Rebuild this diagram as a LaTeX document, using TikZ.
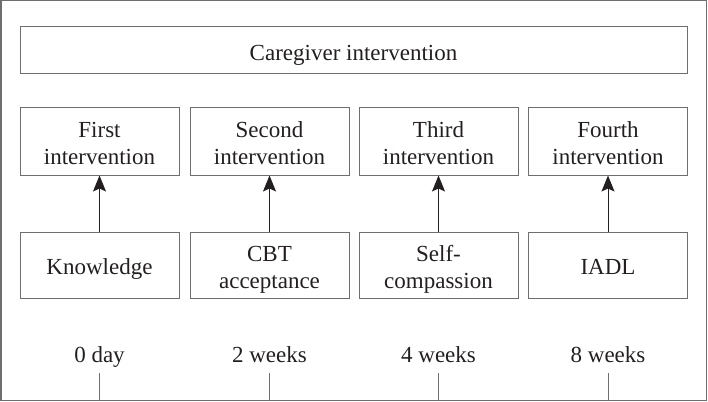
\documentclass[tikz,border=0pt]{standalone}
\usepackage{fontspec}
\setmainfont{LiberationSerif}[Extension=.ttf, UprightFont=*-Regular, BoldFont=*-Bold]
\usetikzlibrary{arrows.meta}
\definecolor{linegray}{HTML}{6E6E6E}
\definecolor{textdark}{HTML}{231F20}

\begin{document}
\begin{tikzpicture}[x=1pt, y=-1pt,
  box/.style={draw=linegray, line width=1pt, minimum width=159pt, minimum height=67pt,
    align=center, inner sep=0pt, text=textdark, font=\rmfamily\fontsize{23}{27}\selectfont},
  oneline/.style={text height=18pt, text depth=0pt},
  twoline/.style={text height=46pt, text depth=0pt},
  time/.style={text=textdark, font=\rmfamily\fontsize{23}{27}\selectfont, text height=16pt,
    text depth=5pt, inner sep=6pt},
  link/.style={draw=linegray, line width=1pt}]
\useasboundingbox (0,0) rectangle (708,401);
\draw[linegray, line width=1.5pt] (0.75,0.75) rectangle (706.5,400.25);

\node[box, text height=21pt, text depth=0pt, minimum width=667pt, minimum height=47pt] (cg) at (353.5,50.5) {Caregiver intervention};

\node[box, twoline, minimum height=68pt] (first) at (99.5,141) {First\\intervention};
\node[box, twoline, minimum height=68pt] (second) at (269.5,141) {Second\\intervention};
\node[box, twoline, minimum height=68pt] (third) at (438.5,141) {Third\\intervention};
\node[box, twoline, minimum height=68pt] (fourth) at (608,141) {Fourth\\intervention};

\node[box, oneline, minimum height=66pt] (know) at (99.5,265) {Knowledge};
\node[box, twoline, minimum height=66pt] (cbt) at (269.5,265) {CBT\\acceptance};
\node[box, twoline, minimum height=66pt] (self) at (438.5,265) {Self-\\compassion};
\node[box, oneline, minimum height=66pt] (iadl) at (608,265) {IADL};

\node[time, anchor=base] (t0) at (99.5,362) {0 day};
\node[time, anchor=base] (t2) at (269.5,362) {2 weeks};
\node[time, anchor=base] (t4) at (438.5,362) {4 weeks};
\node[time, anchor=base] (t8) at (608,362) {8 weeks};
\coordinate (bot) at (0,400);

\draw[link, -{Stealth[length=16pt, width=13pt, inset=3pt]}, textdark] (know) -- (first);
\draw[link, -{Stealth[length=16pt, width=13pt, inset=3pt]}, textdark] (cbt) -- (second);
\draw[link, -{Stealth[length=16pt, width=13pt, inset=3pt]}, textdark] (self) -- (third);
\draw[link, -{Stealth[length=16pt, width=13pt, inset=3pt]}, textdark] (iadl) -- (fourth);

\draw[link] (t0.south) -- (t0.south |- bot);
\draw[link] (t2.south) -- (t2.south |- bot);
\draw[link] (t4.south) -- (t4.south |- bot);
\draw[link] (t8.south) -- (t8.south |- bot);
\end{tikzpicture}
\end{document}
